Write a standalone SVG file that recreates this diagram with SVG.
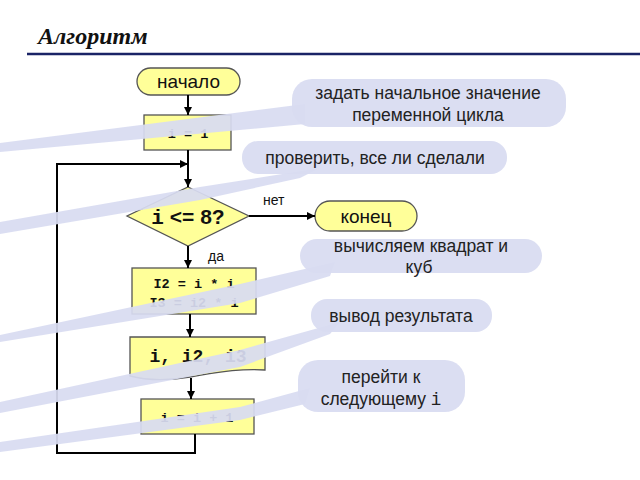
<svg xmlns="http://www.w3.org/2000/svg" width="640" height="480" viewBox="0 0 640 480">
<defs>
<marker id="arr" viewBox="0 0 10 10" refX="10" refY="5" markerWidth="10" markerHeight="8" markerUnits="userSpaceOnUse" orient="auto">
<path d="M0,0 L10,5 L0,10 Z" fill="#000"/>
</marker>
<style>
.node{fill:#ffff99;stroke:#555;stroke-width:1.3}
.conn{fill:none;stroke:#000;stroke-width:2}
.sans{font-family:"Liberation Sans",Arial,sans-serif;fill:#111}
.mono{font-family:"Liberation Mono","Courier New",monospace;font-weight:bold;fill:#111}
.call{fill:#d8dbf1;opacity:0.93}
.ct{font-family:"Liberation Sans",Arial,sans-serif;font-size:17.5px;fill:#222;text-anchor:middle}
</style>
</defs>
<rect width="640" height="480" fill="#fff"/>
<text x="38" y="44" font-family="'Liberation Serif',serif" font-style="italic" font-weight="bold" font-size="24" fill="#111">Алгоритм</text>
<line x1="27" y1="54" x2="640" y2="54" stroke="#1a2366" stroke-width="2.5"/>

<g id="start">
<rect class="node" x="137" y="68" width="103" height="27" rx="13.5"/>
<text class="sans" x="188.5" y="88" font-size="19" text-anchor="middle">начало</text>
</g>
<g id="init">
<rect class="node" x="144" y="115" width="87" height="35"/>
<text class="mono" x="188" y="138" font-size="13.5" text-anchor="middle">i = 1</text>
</g>
<g id="cond">
<polygon class="node" points="188,187 249,216 188,246 127,216"/>
<text x="188" y="224" font-size="21" text-anchor="middle" font-weight="bold" fill="#111"><tspan font-family="'Liberation Mono',monospace">i</tspan><tspan font-family="'Liberation Sans',sans-serif"> &lt;= 8?</tspan></text>
</g>
<g id="end">
<rect class="node" x="315" y="201" width="102" height="30" rx="15"/>
<text class="sans" x="366" y="223" font-size="19" text-anchor="middle">конец</text>
</g>
<g id="calc">
<rect class="node" x="132" y="268" width="124" height="46"/>
<text class="mono" x="194" y="288" font-size="13.5" text-anchor="middle">I2 = i * i</text>
<text class="mono" x="194" y="307" font-size="13.5" text-anchor="middle">I3 = i2 * i</text>
</g>
<g id="output">
<path class="node" d="M130,337 H265 V370 C240,368 215,373 190,377 C165,381 145,380 130,376 Z"/>
<text class="mono" x="198" y="362" font-size="18" text-anchor="middle">i, i2, i3</text>
</g>
<g id="incr">
<rect class="node" x="141" y="399" width="113" height="35"/>
<text class="mono" x="197" y="422" font-size="13.5" text-anchor="middle">i = i + 1</text>
</g>

<g id="connectors">
<line class="conn" x1="188" y1="95" x2="188" y2="115" marker-end="url(#arr)"/>
<line class="conn" x1="188" y1="150" x2="188" y2="187" marker-end="url(#arr)"/>
<line class="conn" x1="249" y1="216" x2="315" y2="216" marker-end="url(#arr)"/>
<line class="conn" x1="188" y1="246" x2="188" y2="268" marker-end="url(#arr)"/>
<line class="conn" x1="190" y1="314" x2="190" y2="337" marker-end="url(#arr)"/>
<line class="conn" x1="191" y1="378" x2="191" y2="399" marker-end="url(#arr)"/>
<polyline class="conn" points="195,434 195,453 57,453 57,164 188,164" marker-end="url(#arr)"/>
<text class="sans" x="263" y="205" font-size="14">нет</text>
<text class="sans" x="208" y="261" font-size="14">да</text>
</g>

<g id="callout1">
<polygon class="call" points="305,104 0,143 0,152 305,124"/>
<rect class="call" x="292" y="79" width="274" height="48" rx="20"/>
<text class="ct" x="428" y="99">задать начальное значение</text>
<text class="ct" x="428" y="121">переменной цикла</text>
</g>
<g id="callout2">
<polygon class="call" points="320,168 200,187 0,222 0,234 200,200 300,178"/>
<rect class="call" x="242" y="141" width="265" height="33" rx="16"/>
<text class="ct" x="375" y="164">проверить, все ли сделали</text>
</g>
<g id="callout3">
<polygon class="call" points="335,262 240,284 0,335 0,342 240,303 330,276"/>
<rect class="call" x="300" y="239" width="242" height="34" rx="17"/>
<text class="ct" x="421" y="252">вычисляем квадрат и</text>
<text class="ct" x="419" y="273">куб</text>
</g>
<g id="callout4">
<polygon class="call" points="340,322 240,350 0,402 0,413 240,367 330,334"/>
<rect class="call" x="311" y="299" width="181" height="33" rx="16"/>
<text class="ct" x="401" y="322">вывод результата</text>
</g>
<g id="callout5">
<polygon class="call" points="310,388 240,407 0,442 0,452 240,420 305,404"/>
<rect class="call" x="298" y="360" width="167" height="52" rx="20"/>
<text class="ct" x="381" y="383">перейти к</text>
<text class="ct" x="381" y="405">следующему <tspan font-family="'Liberation Mono',monospace">i</tspan></text>
</g>
</svg>
